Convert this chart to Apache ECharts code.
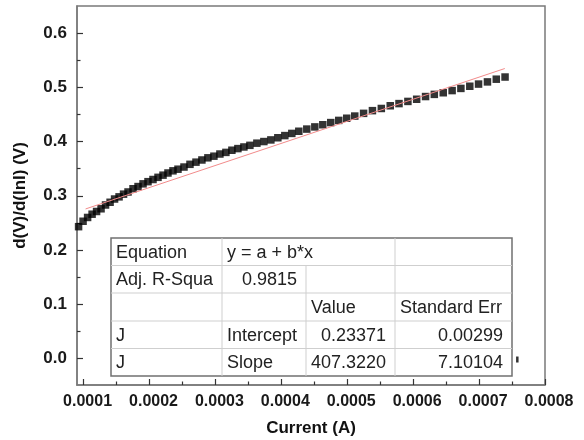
<!DOCTYPE html>
<html>
<head>
<meta charset="utf-8">
<script src="https://cdn.jsdelivr.net/npm/echarts@6/dist/echarts.min.js"></script>
<style>
html, body { margin: 0; padding: 0; background: #fff; }
#chart { width: 584px; height: 440px; }
</style>
</head>
<body>
<div id="chart"></div>
<script>
// measured points: current (A) and d(V)/d(lnI) (V)
const currentA = [
    92.4e-6, 99.2e-6, 106.1e-6, 112.9e-6, 119.7e-6, 126.5e-6, 133.3e-6, 140.2e-6, 147.0e-6, 153.8e-6,
    160.6e-6, 167.4e-6, 175.0e-6, 182.6e-6, 190.2e-6, 197.7e-6, 205.3e-6, 212.9e-6, 220.5e-6, 228.0e-6,
    235.6e-6, 243.2e-6, 252.3e-6, 261.4e-6, 270.5e-6, 279.5e-6, 288.6e-6, 297.7e-6, 306.8e-6, 315.9e-6,
    325.0e-6, 334.1e-6, 343.2e-6, 352.3e-6, 362.9e-6, 373.5e-6, 384.1e-6, 394.7e-6, 405.3e-6, 415.9e-6,
    426.5e-6, 438.6e-6, 450.8e-6, 462.9e-6, 475.0e-6, 487.1e-6, 499.2e-6, 511.4e-6, 524.8e-6, 538.2e-6,
    551.7e-6, 565.2e-6, 578.5e-6, 592.0e-6, 605.3e-6, 618.8e-6, 632.1e-6, 645.6e-6, 659.1e-6, 672.4e-6,
    685.9e-6, 699.2e-6, 712.7e-6, 726.1e-6, 739.4e-6
];
const slopeV = [
    0.243, 0.253, 0.260, 0.266, 0.271, 0.276, 0.283, 0.288, 0.294, 0.298,
    0.303, 0.307, 0.313, 0.317, 0.322, 0.326, 0.330, 0.334, 0.338, 0.342,
    0.346, 0.349, 0.353, 0.358, 0.362, 0.366, 0.370, 0.373, 0.377, 0.380,
    0.384, 0.387, 0.390, 0.393, 0.397, 0.400, 0.403, 0.407, 0.411, 0.415,
    0.419, 0.423, 0.427, 0.431, 0.435, 0.439, 0.443, 0.447, 0.452, 0.457,
    0.461, 0.466, 0.470, 0.474, 0.478, 0.483, 0.487, 0.490, 0.494, 0.498,
    0.502, 0.506, 0.510, 0.515, 0.519
];
// linear fit line end points
const fitX = [0.000103, 0.000739];
const fitY = [0.2757, 0.5347];
// stray mark right of the table
const strayX = [0.000758];
const strayY = [-0.002];

const xTicks = [0.0001, 0.0002, 0.0003, 0.0004, 0.0005, 0.0006, 0.0007, 0.0008];
const xMinor = [0.00015, 0.00025, 0.00035, 0.00045, 0.00055, 0.00065, 0.00075];
const yTicks = [0, 0.1, 0.2, 0.3, 0.4, 0.5, 0.6];
const yMinor = [0.05, 0.15, 0.25, 0.35, 0.45, 0.55];

const tableCells = [
    ['Equation', 'y = a + b*x', '', ''],
    ['Adj. R-Squa', '0.9815', '', ''],
    ['', '', 'Value', 'Standard Err'],
    ['J', 'Intercept', '0.23371', '0.00299'],
    ['J', 'Slope', '407.3220', '7.10104']
];

const FONT = '"Liberation Sans", Arial, sans-serif';
const frameColor = '#7a7a7a';

// table layout
const colX = [111, 222, 306, 395, 512];
const rowY = [238, 265.5, 293, 321, 348.5, 376];
const tbl = [];
tbl.push({
    type: 'rect', z: 100,
    shape: { x: colX[0], y: rowY[0], width: colX[4] - colX[0], height: rowY[5] - rowY[0] },
    style: { fill: '#fff', stroke: '#707070', lineWidth: 1.5 }
});
for (let r = 1; r < 5; r++) {
    tbl.push({ type: 'line', z: 101, shape: { x1: colX[0], y1: rowY[r], x2: colX[4], y2: rowY[r] },
        style: { stroke: '#cfcfcf', lineWidth: 1 } });
}
[[1, 0], [2, 1], [3, 0]].forEach(function (c) {
    tbl.push({ type: 'line', z: 101, shape: { x1: colX[c[0]], y1: rowY[c[1]], x2: colX[c[0]], y2: rowY[5] },
        style: { stroke: '#cfcfcf', lineWidth: 1 } });
});
tableCells.forEach(function (row, r) {
    row.forEach(function (txt, c) {
        if (!txt) return;
        let right = /^[\d.]+$/.test(txt);
        tbl.push({
            type: 'text', z: 102,
            x: right ? colX[c + 1] - 9 : colX[c] + 5,
            y: (rowY[r] + rowY[r + 1]) / 2 + 1,
            style: {
                text: txt, fill: '#222', font: '18px ' + FONT,
                textAlign: right ? 'right' : 'left', textVerticalAlign: 'middle'
            }
        });
    });
});

const tickStyle = { color: '#333', width: 1.2 };
const hiddenLine = { show: true, onZero: false, lineStyle: { color: frameColor, width: 1.5, opacity: 0 } };

let chart = echarts.init(document.getElementById('chart'));
chart.setOption({
    animation: false,
    backgroundColor: '#fff',
    grid: {
        left: 77, right: 39, top: 6, bottom: 55,
        outerBoundsMode: 'none',
        containLabel: false,
        show: true, borderColor: frameColor, borderWidth: 1.5
    },
    xAxis: [{
        type: 'value', min: 0.00009, max: 0.0008,
        name: 'Current (A)', nameLocation: 'middle', nameGap: 35,
        nameTextStyle: { fontFamily: FONT, fontWeight: 'bold', fontSize: 17, color: '#111' },
        axisLine: { show: true, onZero: false, lineStyle: { color: frameColor, width: 1.5 } },
        axisTick: { show: true, inside: true, length: 6, customValues: xTicks, lineStyle: tickStyle },
        axisLabel: {
            customValues: xTicks, margin: 9, padding: [0, 0, 0, 8],
            fontFamily: FONT, fontWeight: 'bold', fontSize: 16, color: '#1a1a1a',
            formatter: function (v) { return v.toFixed(4); }
        },
        splitLine: { show: false }
    }, {
        type: 'value', min: 0.00009, max: 0.0008, position: 'bottom',
        axisLine: hiddenLine,
        axisTick: { show: true, inside: true, length: 3.5, customValues: xMinor, lineStyle: tickStyle },
        axisLabel: { show: true, customValues: xMinor, color: 'rgba(0,0,0,0)', formatter: function () { return ''; } },
        splitLine: { show: false }
    }],
    yAxis: [{
        type: 'value', min: -0.049, max: 0.65,
        name: 'd(V)/d(lnI) (V)', nameLocation: 'middle', nameGap: 48,
        nameTextStyle: { fontFamily: FONT, fontWeight: 'bold', fontSize: 17, color: '#111' },
        axisLine: { show: true, onZero: false, lineStyle: { color: frameColor, width: 1.5 } },
        axisTick: { show: true, inside: true, length: 6, customValues: yTicks, lineStyle: tickStyle },
        axisLabel: {
            customValues: yTicks, margin: 10,
            fontFamily: FONT, fontWeight: 'bold', fontSize: 17, color: '#1a1a1a',
            formatter: function (v) { return v.toFixed(1); }
        },
        splitLine: { show: false }
    }, {
        type: 'value', min: -0.049, max: 0.65, position: 'left',
        axisLine: hiddenLine,
        axisTick: { show: true, inside: true, length: 3.5, customValues: yMinor, lineStyle: tickStyle },
        axisLabel: { show: true, customValues: yMinor, color: 'rgba(0,0,0,0)', formatter: function () { return ''; } },
        splitLine: { show: false }
    }],
    series: [{
        name: 'J',
        type: 'scatter',
        symbol: 'rect',
        symbolSize: 7.5,
        itemStyle: { color: '#000' },
        data: currentA.map(function (x, i) { return [x, slopeV[i]]; }),
        z: 2
    }, {
        name: 'fit',
        type: 'line',
        showSymbol: false,
        lineStyle: { color: '#f28b8b', width: 1 },
        data: fitX.map(function (x, i) { return [x, fitY[i]]; }),
        z: 3
    }, {
        name: 'stray',
        type: 'scatter',
        symbol: 'rect',
        symbolSize: [2.5, 6],
        itemStyle: { color: '#000' },
        data: strayX.map(function (x, i) { return [x, strayY[i]]; })
    }],
    graphic: tbl
});
</script>
</body>
</html>
